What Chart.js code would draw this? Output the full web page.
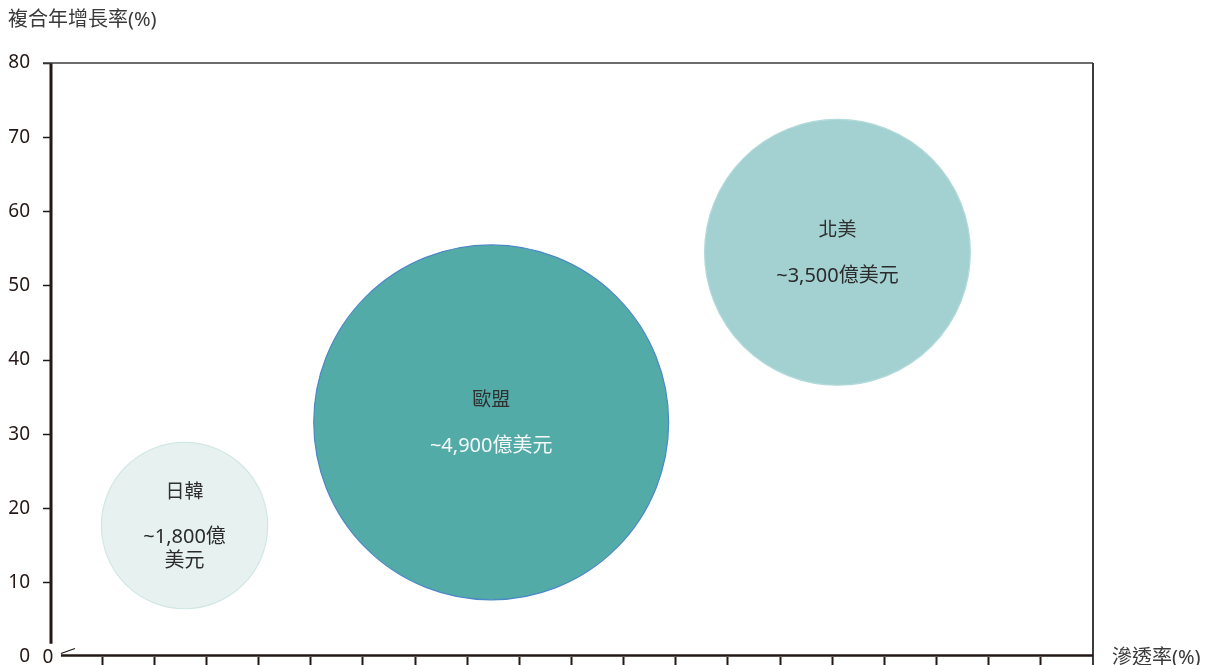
<!DOCTYPE html>
<html>
<head>
<meta charset="utf-8">
<script src="https://cdn.jsdelivr.net/npm/chart.js@4.4.0/dist/chart.umd.min.js"></script>
<style>
  html, body { margin: 0; padding: 0; background: #fff; }
  #wrap { width: 1211px; height: 665px; position: relative; }
</style>
</head>
<body>
<div id="wrap"><canvas id="Chart"></canvas></div>
<script>
// data
const regions = ['日韓', '歐盟', '北美'];
const marketValue = [['~1,800億', '美元'], ['~4,900億美元'], ['~3,500億美元']];
const penetration = [12.9, 42.3, 75.5];   // x, 滲透率(%)
const cagr = [17.7, 31.6, 54.5];          // y, 複合年增長率(%)
const bubbleSize = [11.2, 23.9, 17.9];    // bubble radius in y-axis units
const yTicks = [0, 10, 20, 30, 40, 50, 60, 70, 80];

const fillColors = ['#e7f2f0', '#53aba8', '#a3d1d1'];
const edgeColors = ['#d2e7e4', '#4b88c6', '#b3dada'];
const valueColors = ['#2b2b2b', '#f4f8f8', '#2b2b2b'];

const axisColor = '#231815';
const sansFont = '"Noto Sans", "Noto Sans CJK TC", sans-serif';

// axis lines, break mark, titles and bubble texts
const decor = {
  id: 'decor',
  afterDraw(chart) {
    const { ctx, chartArea: a, scales: { x, y } } = chart;
    const line = (x1, y1, x2, y2, w) => {
      ctx.lineWidth = w;
      ctx.beginPath();
      ctx.moveTo(x1, y1);
      ctx.lineTo(x2, y2);
      ctx.stroke();
    };
    const base = a.bottom - 1.5;
    ctx.save();
    ctx.strokeStyle = axisColor;
    // left axis stops short of the origin
    line(a.left + 1, a.top, a.left + 1, y.getPixelForValue(1.8), 3);
    // top and right frame
    ctx.strokeStyle = '#3c3c3c';
    line(a.left - 7, a.top, a.right, a.top, 1.5);
    line(a.right, a.top, a.right, a.bottom + 8, 2);
    // bottom axis with break slash
    ctx.strokeStyle = axisColor;
    const x0 = x.getPixelForValue(1.05);
    line(x0, base, a.right, base, 2.5);
    line(x0, base - 2, x0 + 14, base - 7, 1.3);

    // origin label of the x axis and titles
    ctx.fillStyle = axisColor;
    ctx.font = '19px ' + sansFont;
    ctx.textBaseline = 'middle';
    ctx.textAlign = 'center';
    ctx.fillText('0', a.left - 2, a.bottom + 1);
    ctx.textAlign = 'left';
    ctx.fillStyle = '#3a3a3a';
    ctx.font = '20px ' + sansFont;
    ctx.fillText('複合年增長率(%)', 8, 20);
    ctx.fillText('滲透率(%)', a.right + 19, a.bottom + 1);

    // bubble texts
    const meta = chart.getDatasetMeta(0);
    ctx.textAlign = 'center';
    meta.data.forEach((el, i) => {
      const lines = marketValue[i];
      const nameOff = lines.length > 1 ? -35 : -24;
      const valOff = lines.length > 1 ? 12 : 24;
      ctx.fillStyle = '#303030';
      ctx.font = '19px "Noto Sans CJK TC", sans-serif';
      ctx.fillText(regions[i], el.x, el.y + nameOff);
      ctx.fillStyle = valueColors[i];
      ctx.font = '20px ' + sansFont;
      lines.forEach((t, k) => ctx.fillText(t, el.x, el.y + valOff + k * 24));
    });
    ctx.restore();
  }
};

const chart = new Chart(document.getElementById('Chart'), {
  type: 'bubble',
  data: {
    datasets: [{
      label: '市場規模',
      data: penetration.map((x, i) => ({ x: x, y: cagr[i], r: 1 })),
      backgroundColor: fillColors,
      borderColor: edgeColors,
      borderWidth: 1.2
    }]
  },
  options: {
    responsive: true,
    maintainAspectRatio: false,
    animation: false,
    events: [],
    layout: { autoPadding: false, padding: { top: 63, right: 118, left: 0, bottom: 0 } },
    plugins: {
      legend: { display: false },
      tooltip: { enabled: false }
    },
    scales: {
      x: {
        type: 'linear',
        min: 0,
        max: 100,
        border: { display: false },
        grid: {
          drawOnChartArea: false,
          drawTicks: true,
          tickLength: 8,
          tickWidth: 2,
          tickColor: (c) => (c.tick.value === 0 || c.tick.value === 100) ? 'rgba(0,0,0,0)' : axisColor
        },
        ticks: { stepSize: 5, callback: () => '' },
        afterFit: (s) => { s.height = 8; s.paddingLeft = 0; s.paddingRight = 0; }
      },
      y: {
        type: 'linear',
        min: 0,
        max: 80,
        border: { display: false },
        grid: {
          drawOnChartArea: false,
          drawTicks: true,
          tickLength: 7,
          tickWidth: 1.5,
          tickColor: (c) => c.tick.value === 0 ? 'rgba(0,0,0,0)' : axisColor
        },
        afterBuildTicks: (s) => { s.ticks = yTicks.map(v => ({ value: v })); },
        ticks: {
          color: axisColor,
          padding: 13,
          font: { size: 19, family: sansFont }
        },
        afterFit: (s) => { s.width = 50; s.paddingTop = 0; s.paddingBottom = 0; }
      }
    }
  },
  plugins: [decor]
});

// bubble radius: convert the size (in y units) to pixels with the y scale
function sizeBubbles() {
  const ys = chart.scales.y;
  const perUnit = ys.getPixelForValue(0) - ys.getPixelForValue(1);
  chart.data.datasets[0].data = penetration.map((x, i) => ({ x: x, y: cagr[i], r: bubbleSize[i] * perUnit }));
  chart.update('none');
}
sizeBubbles();
</script>
</body>
</html>
